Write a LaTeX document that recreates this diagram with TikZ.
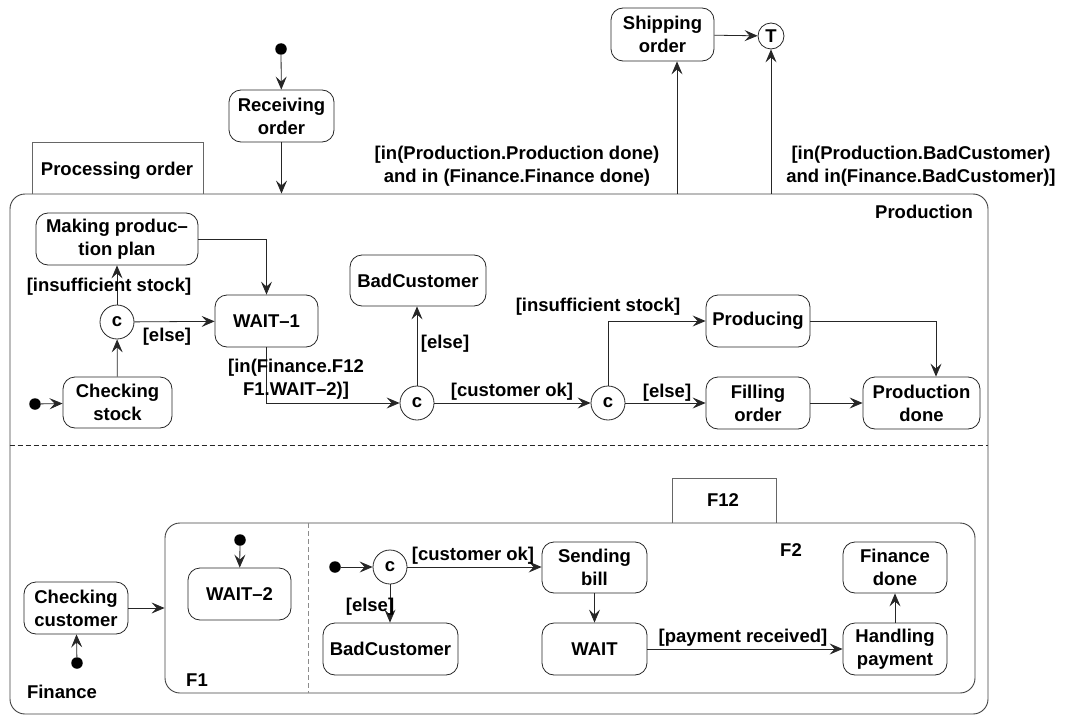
\documentclass[tikz,border=0pt]{standalone}
\usepackage{fontspec}
\setmainfont{Liberation Sans}
\usetikzlibrary{arrows.meta,calc}
\begin{document}
\begin{tikzpicture}[x=1pt,y=-1pt,
  every node/.style={font=\fontsize{18.5}{23}\selectfont\bfseries, inner sep=0pt, align=center},
  line/.style={draw=black!85, line width=0.8pt},
  arr/.style={line, -{Stealth[length=13pt,width=11pt,inset=5pt]}},
  state/.style={draw=black!85, line width=0.8pt, rounded corners=12pt},
  choice/.style={draw=black!85, line width=0.8pt, circle, minimum size=34pt},
  initdot/.style={fill=black, circle, minimum size=11.5pt},
  region/.style={draw=black!75, line width=0.9pt, rounded corners=15pt},
  guard/.style={}
]
\useasboundingbox (0,0) rectangle (1066,717);

% ---------- containers ----------
\node[region, minimum width=978pt, minimum height=520pt] (outer) at (499,454) {};
\draw[line, draw=black!60] (32,194) -- (32,142) -- (203,142) -- (203,194);
\node (procname) at (117,171) {Processing order};
\node (prodname) at (924,212) {Production};
\node (finname) at (62,692) {Finance};
\draw[line, dashed, dash pattern=on 5pt off 3pt] (outer.west |- 0,445) -- (outer.east |- 0,445);

\node[region, minimum width=810pt, minimum height=170pt] (fbox) at (570,608) {};
\draw[line, draw=black!60] (672,523) -- (672,478) -- (776,478) -- (776,523);
\node (f12name) at (723,500) {F12};
\draw[line, draw=black!45, dashed, dash pattern=on 5pt off 3pt] (308,523) -- (308,693);
\node (f1name) at (197,680) {F1};
\node (f2name) at (791,550) {F2};

% ---------- top level ----------
\node[initdot] (start) at (281,49) {};
\node[state, minimum width=105pt, minimum height=52pt] (recv) at (281.5,116) {Receiving\\order};
\node[state, minimum width=103pt, minimum height=53pt] (ship) at (662.5,34.5) {Shipping\\order};
\node[choice, minimum size=26pt] (term) at (771,36) {T};

\draw[arr] (start) -- (recv);
\draw[arr] (recv) -- (recv |- outer.north);
\coordinate (shipout) at (677,194);
\draw[arr] (shipout) -- (shipout |- ship.south);
\draw[arr] (term |- outer.north) -- (term);
\draw[arr] (ship) -- (term);

\node[guard] (gship) at (517,166.5) {[in(Production.Production done)\\ and in (Finance.Finance done)};
\node[guard] (gterm) at (921,166.5) {[in(Production.BadCustomer)\\and in(Finance.BadCustomer)]};

% ---------- Production ----------
\node[initdot] (pstart) at (35,404) {};
\node[state, minimum width=109pt, minimum height=51pt] (chk) at (117.5,402.5) {Checking\\stock};
\node[choice] (c1) at (117,322) {c};
\node[state, minimum width=162pt, minimum height=52pt] (plan) at (117,239) {Making produc–\\tion plan};
\node[state, minimum width=103pt, minimum height=52pt] (wait1) at (266.5,321) {WAIT–1};
\node[choice] (c2) at (417,403) {c};
\node[state, minimum width=136pt, minimum height=51pt] (bad1) at (418,280.5) {BadCustomer};
\node[choice] (c3) at (608,403) {c};
\node[state, minimum width=104pt, minimum height=52pt] (prod) at (758,321) {Producing};
\node[state, minimum width=104pt, minimum height=52pt] (fill) at (758,403) {Filling\\order};
\node[state, minimum width=117pt, minimum height=52pt] (pdone) at (921.5,403) {Production\\done};

\draw[arr] (pstart) -- (chk);
\draw[arr] (chk) -- (c1);
\draw[arr] (c1) -- (plan);
\draw[arr] (c1) -- (wait1);
\draw[arr] (plan.east) -| (wait1.north);
\draw[arr] (wait1.south) |- (c2.west);
\draw[arr] (c2.north) -- (c2.north |- bad1.south);
\draw[arr] (c2) -- (c3);
\draw[arr] (c3.north) |- (prod.west);
\draw[arr] (c3) -- (fill);
\draw[arr] (prod.east) -| ([xshift=14.5pt]pdone.north);
\draw[arr] (fill) -- (pdone);

\node[guard] (g1) at (109,287) {[insufficient stock]};
\node[guard] (g2) at (167,337) {[else]};
\node[guard] (g3) at (296,379) {[in(Finance.F12\\F1.WAIT–2)]};
\node[guard] (g4) at (445,344) {[else]};
\node[guard] (g5) at (512,392) {[customer ok]};
\node[guard] (g6) at (598,307) {[insufficient stock]};
\node[guard] (g7) at (667,393) {[else]};

% ---------- Finance ----------
\node[state, minimum width=104pt, minimum height=52pt] (chkc) at (76,608) {Checking\\customer};
\node[initdot] (fstart) at (77,663) {};
\draw[arr] (fstart) -- (chkc);
\draw[arr] (chkc.east) -- (chkc.east -| fbox.west);

\node[initdot] (f1start) at (240,540) {};
\node[state, minimum width=103pt, minimum height=52pt] (wait2) at (239.5,594) {WAIT–2};
\draw[arr] (f1start) -- (wait2);

\node[initdot] (f2start) at (335,567) {};
\node[choice] (c4) at (390,567) {c};
\node[state, minimum width=105pt, minimum height=51pt] (bill) at (594.5,567.5) {Sending\\bill};
\node[state, minimum width=135pt, minimum height=52pt] (bad2) at (390.5,649) {BadCustomer};
\node[state, minimum width=105pt, minimum height=52pt] (wait) at (594.5,649) {WAIT};
\node[state, minimum width=104pt, minimum height=52pt] (hpay) at (895,649) {Handling\\payment};
\node[state, minimum width=104pt, minimum height=51pt] (fdone) at (895,567.5) {Finance\\done};

\draw[arr] (f2start) -- (c4);
\draw[arr] (c4) -- (c4 -| bill.west);
\draw[arr] (c4) -- (c4 |- bad2.north);
\draw[arr] (bill) -- (wait);
\draw[arr] (wait) -- (hpay);
\draw[arr] (hpay) -- (fdone);

\node[guard] (g8) at (473,556) {[customer ok]};
\node[guard] (g9) at (370,607) {[else]};
\node[guard] (g10) at (743,638) {[payment received]};
\end{tikzpicture}
\end{document}
